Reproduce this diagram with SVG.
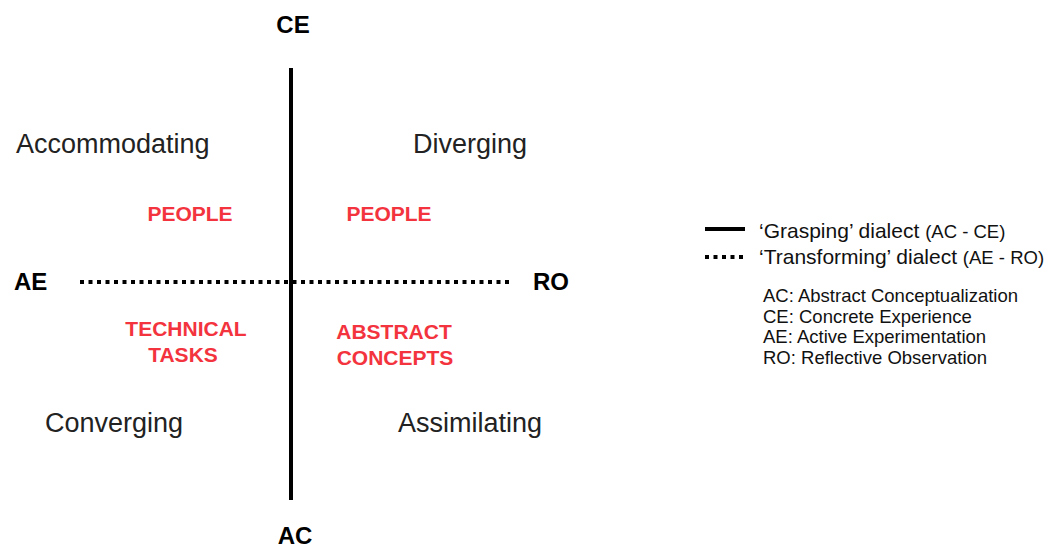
<svg xmlns="http://www.w3.org/2000/svg" width="1045" height="547" viewBox="0 0 1045 547">
  <style>
    text { font-family: "Liberation Sans", Arial, sans-serif; }
    .pole { font-size: 24px; font-weight: bold; fill: #000; }
    .style { font-size: 27px; fill: #222; }
    .focus { font-size: 21px; font-weight: bold; fill: #f3333d; text-anchor: middle; }
    .leg { font-size: 21px; fill: #111; }
    .legs { font-size: 18.5px; }
    .abbr { font-size: 18.5px; fill: #111; }
    .solid { stroke: #000; stroke-width: 4; fill: none; }
    .dotted { stroke: #000; stroke-width: 4; fill: none; stroke-dasharray: 4 4.5; }
  </style>

  <!-- axes -->
  <g id="connectors">
    <line class="dotted" x1="80" y1="282" x2="512" y2="282"/>
    <line class="solid" x1="291" y1="68" x2="291" y2="500"/>
  </g>

  <!-- axis poles -->
  <g id="pole-ce"><text class="pole" x="293" y="33" text-anchor="middle">CE</text></g>
  <g id="pole-ac"><text class="pole" x="295" y="544" text-anchor="middle">AC</text></g>
  <g id="pole-ae"><text class="pole" x="14" y="290">AE</text></g>
  <g id="pole-ro"><text class="pole" x="533" y="290">RO</text></g>

  <!-- learning styles -->
  <g id="style-accommodating"><text class="style" x="16" y="153">Accommodating</text></g>
  <g id="style-diverging"><text class="style" x="413" y="153">Diverging</text></g>
  <g id="style-converging"><text class="style" x="45" y="432">Converging</text></g>
  <g id="style-assimilating"><text class="style" x="398" y="432">Assimilating</text></g>

  <!-- quadrant focus -->
  <g id="focus-people-left"><text class="focus" x="190" y="221">PEOPLE</text></g>
  <g id="focus-people-right"><text class="focus" x="389" y="221">PEOPLE</text></g>
  <g id="focus-technical">
    <text class="focus" x="186" y="336">TECHNICAL</text>
    <text class="focus" x="183" y="362">TASKS</text>
  </g>
  <g id="focus-abstract">
    <text class="focus" x="394" y="339">ABSTRACT</text>
    <text class="focus" x="395" y="365">CONCEPTS</text>
  </g>

  <!-- legend -->
  <g id="legend">
    <line class="solid" x1="705" y1="229" x2="745" y2="229" stroke-width="3"/>
    <text class="leg" x="759" y="238">‘Grasping’ dialect <tspan class="legs">(AC - CE)</tspan></text>
    <line class="dotted" x1="705" y1="257" x2="745" y2="257" stroke-width="3" stroke-dasharray="3 3.5"/>
    <text class="leg" x="759" y="264">‘Transforming’ dialect <tspan class="legs">(AE - RO)</tspan></text>
    <text class="abbr" x="763" y="302">AC: Abstract Conceptualization</text>
    <text class="abbr" x="763" y="322.5">CE: Concrete Experience</text>
    <text class="abbr" x="763" y="343">AE: Active Experimentation</text>
    <text class="abbr" x="763" y="363.5">RO: Reflective Observation</text>
  </g>
</svg>
